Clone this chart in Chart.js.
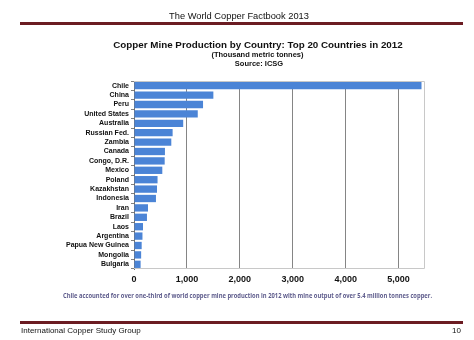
<!DOCTYPE html>
<html>
<head>
<meta charset="utf-8">
<script src="https://cdn.jsdelivr.net/npm/chart.js@4"></script>
<style>
  html, body { margin: 0; padding: 0; background: #fff; }
  #page { position: relative; width: 474px; height: 340px; overflow: hidden; font-family: "Liberation Sans", Arial, sans-serif; }
  #page canvas { position: absolute; left: 0; top: 0; }
  .t { position: absolute; white-space: nowrap; }
  .rule { position: absolute; left: 20px; width: 443px; height: 3px; background: #6b1c22; }
</style>
</head>
<body>
<div id="page">
  <canvas id="c" width="474" height="340"></canvas>
  <div class="t" style="left:0;width:478px;text-align:center;top:10.5px;font-size:9.3px;color:#111;">The World Copper Factbook 2013</div>
  <div class="rule" style="top:22px;"></div>
  <div class="t" style="left:0;width:516px;text-align:center;top:38.5px;font-size:9.8px;font-weight:bold;color:#111;">Copper Mine Production by Country: Top 20 Countries in 2012</div>
  <div class="t" style="left:0;width:515px;text-align:center;top:50px;font-size:7.5px;font-weight:bold;color:#111;">(Thousand metric tonnes)</div>
  <div class="t" style="left:0;width:518px;text-align:center;top:58.5px;font-size:7.5px;font-weight:bold;color:#111;">Source: ICSG</div>
  <div class="t" style="left:0;width:495px;text-align:center;top:289.5px;font-size:7.1px;font-weight:bold;color:#5e5c8c;font-family:'Open Sans',sans-serif;transform:scaleX(0.82);transform-origin:247.5px 0;">Chile accounted for over one-third of world copper mine production in 2012 with mine output of over 5.4 million tonnes copper.</div>
  <div class="rule" style="top:321px;"></div>
  <div class="t" style="left:21px;top:325.5px;font-size:8px;color:#111;">International Copper Study Group</div>
  <div class="t" style="left:452px;top:325.5px;font-size:8px;color:#111;">10</div>
</div>
<script>
// Copper mine production, 2012, thousand metric tonnes
const countries = ["Chile", "China", "Peru", "United States", "Australia", "Russian Fed.", "Zambia",
  "Canada", "Congo, D.R.", "Mexico", "Poland", "Kazakhstan", "Indonesia", "Iran", "Brazil", "Laos",
  "Argentina", "Papua New Guinea", "Mongolia", "Bulgaria"];
const production = [5434, 1500, 1305, 1205, 930, 730, 705, 585, 580, 535, 445, 435, 415, 265, 245, 170, 160, 145, 135, 125];
const tickValues = [0, 1000, 2000, 3000, 4000, 5000];
const axisMax = 5500;

// light frame around the plotting area
const frame = {
  id: 'frame',
  beforeDatasetsDraw(chart) {
    const { ctx, chartArea: a } = chart;
    ctx.save();
    ctx.strokeStyle = '#c8c8c8';
    ctx.lineWidth = 1;
    ctx.beginPath();
    ctx.moveTo(a.left, a.top + 0.5);
    ctx.lineTo(a.right - 0.5, a.top + 0.5);
    ctx.lineTo(a.right - 0.5, a.bottom - 0.5);
    ctx.lineTo(a.left, a.bottom - 0.5);
    ctx.stroke();
    ctx.restore();
  }
};

new Chart(document.getElementById('c'), {
  type: 'bar',
  data: {
    labels: countries,
    datasets: [{
      data: production,
      backgroundColor: '#4b84d6',
      borderWidth: 0,
      barPercentage: 0.78,
      categoryPercentage: 1.0
    }]
  },
  plugins: [frame],
  options: {
    indexAxis: 'y',
    responsive: false,
    animation: false,
    layout: { padding: { left: 0, top: 81, right: 49, bottom: 52 } },
    plugins: { legend: { display: false }, tooltip: { enabled: false }, title: { display: false } },
    scales: {
      x: {
        min: 0, max: axisMax,
        afterBuildTicks(scale) { scale.ticks = tickValues.map(v => ({ value: v })); },
        afterFit(scale) { scale.height = 19; },
        grid: { color: '#858585', lineWidth: 1, drawTicks: false },
        border: { display: false },
        ticks: {
          padding: 5,
          color: '#111',
          font: { family: 'Liberation Sans', size: 9, weight: 'bold' },
          callback: v => v.toLocaleString('en-US')
        }
      },
      y: {
        afterFit(scale) { scale.width = 134; },
        grid: { display: true, drawOnChartArea: false, tickLength: 3, color: '#808080', offset: true },
        border: { display: true, color: '#707070', width: 1 },
        ticks: {
          padding: 2,
          color: '#111',
          autoSkip: false,
          font: { family: 'Liberation Sans', size: 7, weight: 'bold' }
        }
      }
    }
  }
});
</script>
</body>
</html>
